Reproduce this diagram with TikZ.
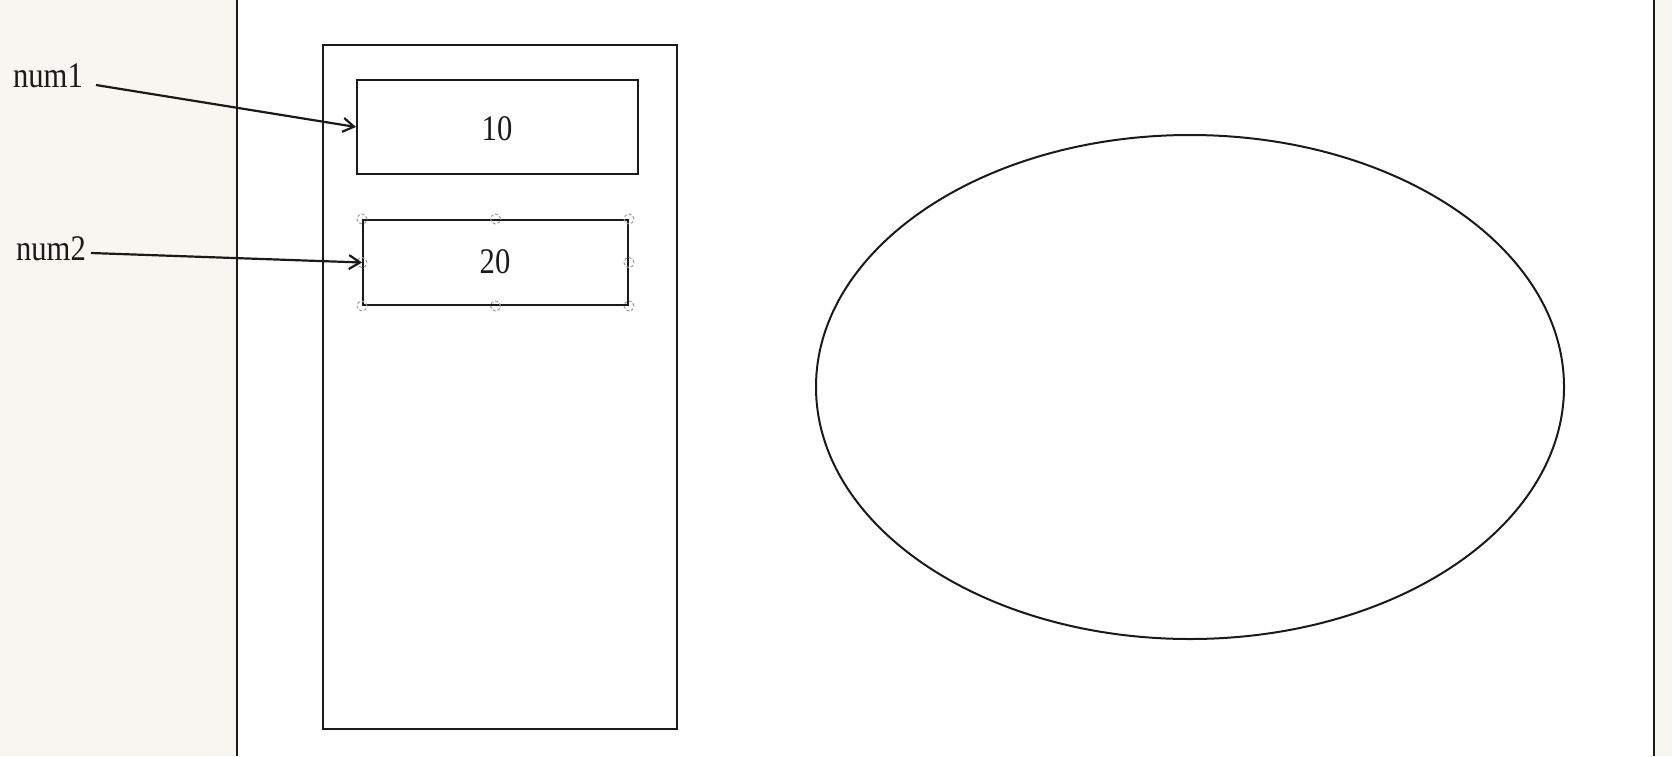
\documentclass[tikz,border=0pt]{standalone}
\usepackage{fontspec}
\setmainfont{Liberation Serif}[FakeStretch=0.85]
\usetikzlibrary{arrows.meta,shapes.geometric}
\definecolor{beige}{HTML}{F8F6F0}
\definecolor{ink}{HTML}{1A1A1A}
\tikzset{
  line/.style={draw=ink,line width=2pt},
  cell/.style={line,rectangle,inner sep=0pt},
  lbl/.style={font=\fontsize{36}{40}\selectfont,text=ink,inner sep=0pt},
  ptr/.style={draw=ink,line width=2.2pt,-{Straight Barb[length=11pt,width=14pt,line width=2.2pt]}},
  handle/.style={draw=gray!80,line width=1pt,densely dashed,circle,inner sep=0pt,minimum size=10pt}
}
\begin{document}
\begin{tikzpicture}[x=1pt,y=-1pt]
\useasboundingbox (0,0) rectangle (1672,756);
\fill[beige] (0,0) rectangle (1672,756);
\fill[white] (237,0) rectangle (1654,756);
\draw[line] (237,0) -- (237,756);
\draw[line] (1654,0) -- (1654,756);
% stack frame
\node[cell,minimum width=354pt,minimum height=684pt] (stack) at (500,387) {};
% cells
\node[cell,minimum width=281pt,minimum height=94pt] (box1) at (497.5,127) {};
\node[cell,minimum width=265pt,minimum height=85pt] (box2) at (495.5,262.5) {};
\node[lbl] (v1) at (497,129) {10};
\node[lbl] (v2) at (495,262) {20};
% selection handles on box2
\foreach \a in {north west,north,north east,east,south east,south,south west,west}
  \node[handle] at (box2.\a) {};
% heap
\node[line,ellipse,minimum width=748pt,minimum height=504pt,inner sep=0pt] (heap) at (1190,387) {};
% variable names
\node[lbl] (n1) at (48,76) {num1};
\node[lbl] (n2) at (51,249) {num2};
\coordinate (s1) at (96,85);
\coordinate (s2) at (91,253);
\draw[ptr] (s1) -- (box1.west);
\draw[ptr] (s2) -- (box2.west);
\end{tikzpicture}
\end{document}
